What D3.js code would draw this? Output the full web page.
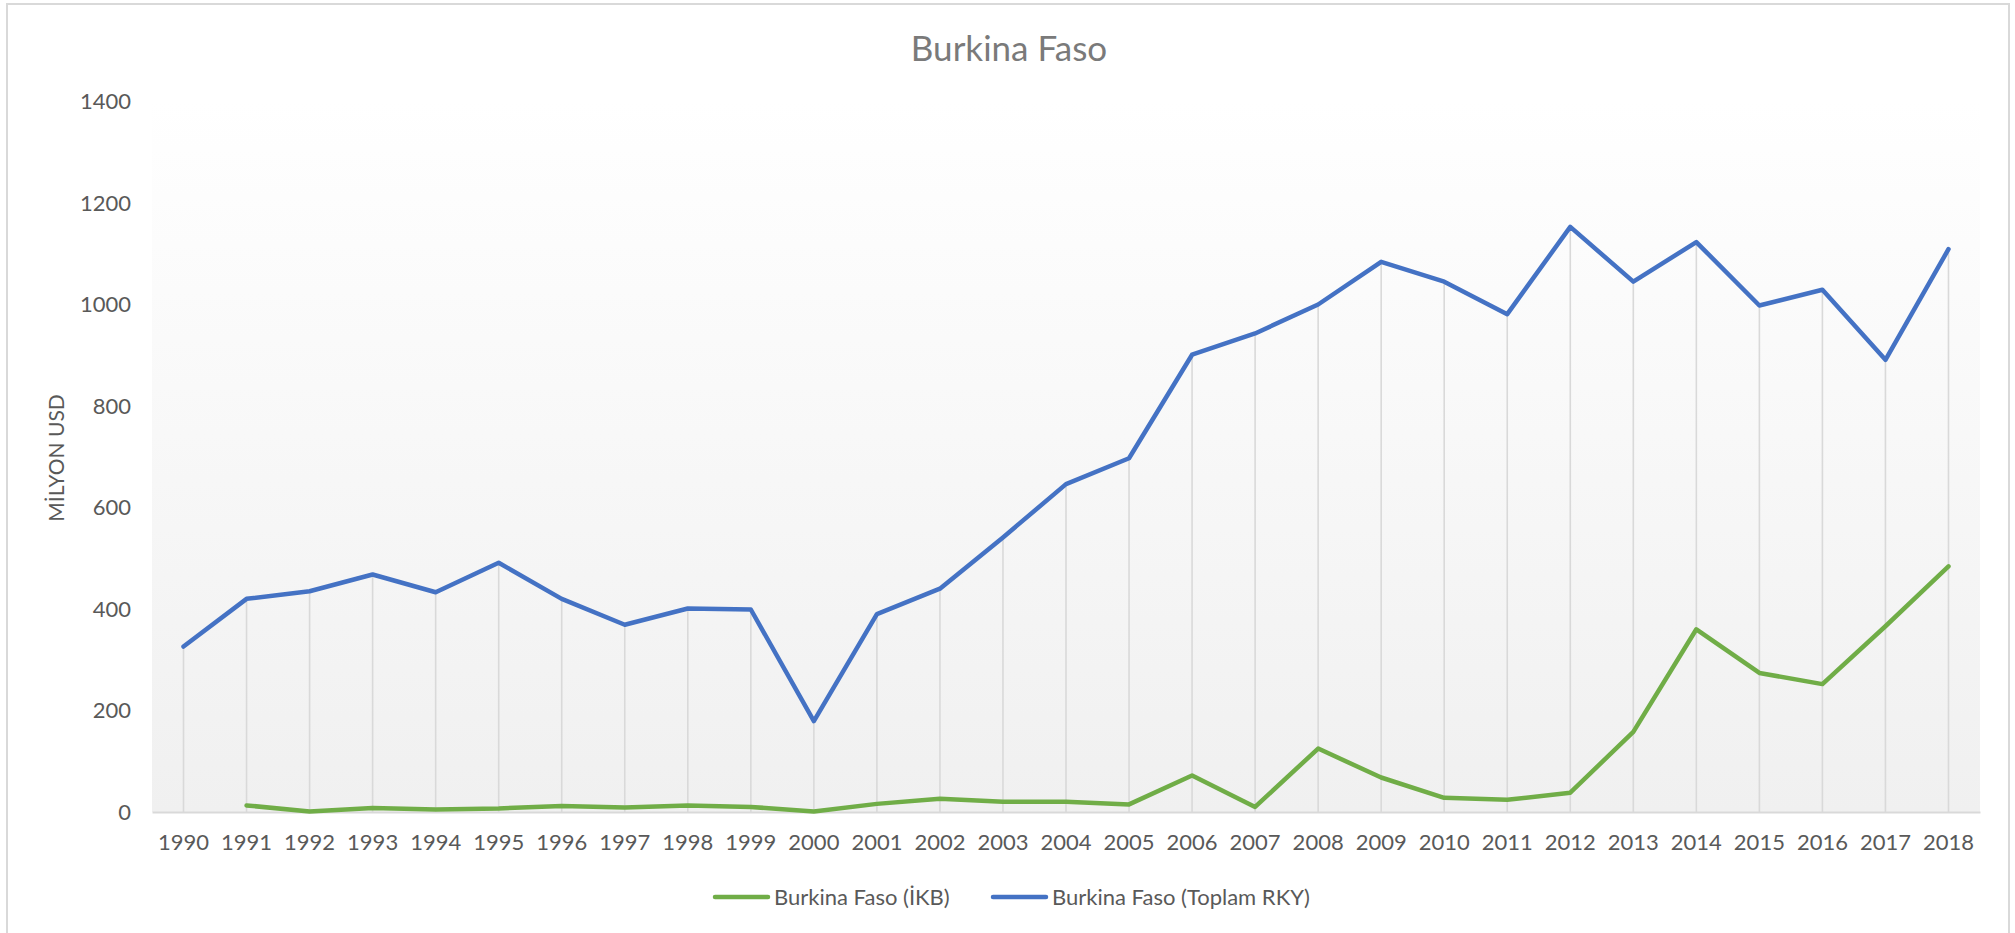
<!DOCTYPE html>
<html>
<head>
<meta charset="utf-8">
<script src="https://cdn.jsdelivr.net/npm/d3@7"></script>
<style>
  body { margin: 0; background: #ffffff; }
  text { font-family: Lato, "Open Sans", sans-serif; }
</style>
</head>
<body>
<script>

// years on the category axis
var years = [1990, 1991, 1992, 1993, 1994, 1995, 1996, 1997, 1998, 1999,
             2000, 2001, 2002, 2003, 2004, 2005, 2006, 2007, 2008, 2009,
             2010, 2011, 2012, 2013, 2014, 2015, 2016, 2017, 2018];

// Burkina Faso (İKB), no value for 1990
var ikb = [null, 13, 1, 8, 5, 7, 12, 9, 13, 10,
           1, 16, 26, 20, 20, 15, 72, 10, 125, 68,
           28, 24, 38, 158, 360, 274, 252, 366, 484];

// Burkina Faso (Toplam RKY)
var toplam = [326, 420, 435, 468, 433, 491, 420, 369, 401, 399,
              179, 390, 440, 541, 646, 697, 901, 943, 1000, 1084,
              1045, 981, 1153, 1045, 1123, 998, 1029, 891, 1109];

var y_ticks = [0, 200, 400, 600, 800, 1000, 1200, 1400];

var series_names = ["Burkina Faso (İKB)", "Burkina Faso (Toplam RKY)"];
var series_colors = ["#70ad47", "#4472c4"];

function draw() {

    var width = 2015, height = 933;
    var margin = {top: 101.5, right: 35, bottom: 121, left: 152};

    var svg = d3.select("body")
                .append("svg")
                .attr("width", width)
                .attr("height", height);

    // chart border
    svg.append("rect")
       .attr("x", 7)
       .attr("y", 4)
       .attr("width", 2002)
       .attr("height", 940)
       .attr("fill", "#ffffff")
       .attr("stroke", "#d9d9d9")
       .attr("stroke-width", 2);

    // scales
    var x_scale = d3.scaleBand()
        .domain(years)
        .range([margin.left, width - margin.right])
        .padding(0);

    var y_scale = d3.scaleLinear()
        .domain([0, 1400])
        .range([height - margin.bottom, margin.top]);

    function cx(i) {
        return x_scale(years[i]) + x_scale.bandwidth() / 2;
    }

    // plot area background gradient
    var grad = svg.append("defs")
        .append("linearGradient")
        .attr("id", "plotbg")
        .attr("x1", 0).attr("y1", 0)
        .attr("x2", 0).attr("y2", 1);
    grad.append("stop").attr("offset", "0%").attr("stop-color", "#ffffff");
    grad.append("stop").attr("offset", "100%").attr("stop-color", "#f0f0f0");

    svg.append("rect")
       .attr("x", margin.left)
       .attr("y", y_scale(1400))
       .attr("width", x_scale.range()[1] - margin.left)
       .attr("height", y_scale(0) - y_scale(1400))
       .attr("fill", "url(#plotbg)");

    // title
    svg.append("text")
       .attr("x", 1009)
       .attr("y", 61)
       .attr("text-anchor", "middle")
       .attr("font-size", "35px")
       .attr("fill", "#7a7a7a")
       .text("Burkina Faso");

    // drop lines from the highest point down to the axis
    svg.append("g")
       .selectAll("line")
       .data(years)
       .enter()
       .append("line")
       .attr("x1", function(d, i) { return cx(i); })
       .attr("x2", function(d, i) { return cx(i); })
       .attr("y1", function(d, i) {
           return y_scale(Math.max(toplam[i], ikb[i] == null ? 0 : ikb[i]));
       })
       .attr("y2", y_scale(0))
       .attr("stroke", "#d9d9d9")
       .attr("stroke-width", 1.6);

    // y axis
    var y_axis = d3.axisLeft(y_scale)
        .tickValues(y_ticks)
        .tickSize(0)
        .tickPadding(0)
        .tickFormat(d3.format("d"));

    var gy = svg.append("g")
        .attr("transform", "translate(131,0)")
        .call(y_axis);
    gy.select(".domain").remove();
    gy.selectAll("text")
      .attr("font-size", "22px")
      .attr("fill", "#595959")
      .style("font-family", "Lato, sans-serif");

    // x axis
    var x_axis = d3.axisBottom(x_scale).tickSize(0).tickPadding(22);
    var gx = svg.append("g")
        .attr("transform", "translate(0," + y_scale(0) + ")")
        .call(x_axis);
    gx.select(".domain")
      .attr("stroke", "#d9d9d9")
      .attr("stroke-width", 2);
    gx.selectAll("text")
      .attr("font-size", "22px")
      .attr("fill", "#595959")
      .style("font-family", "Lato, sans-serif");

    // y axis title
    svg.append("text")
       .attr("transform", "translate(64,458) rotate(-90)")
       .attr("text-anchor", "middle")
       .attr("font-size", "21px")
       .attr("fill", "#595959")
       .text("MİLYON USD");

    // lines
    var line = d3.line()
        .defined(function(d) { return d != null; })
        .x(function(d, i) { return cx(i); })
        .y(function(d) { return y_scale(d); });

    [ikb, toplam].forEach(function(s, k) {
        svg.append("path")
           .datum(s)
           .attr("d", line)
           .attr("fill", "none")
           .attr("stroke", series_colors[k])
           .attr("stroke-width", 4.5)
           .attr("stroke-linejoin", "round")
           .attr("stroke-linecap", "round");
    });

    // legend
    var legend_x = [715, 993];
    series_names.forEach(function(name, k) {
        var g = svg.append("g")
            .attr("transform", "translate(" + legend_x[k] + ",897)");
        g.append("line")
         .attr("x1", 0).attr("x2", 53)
         .attr("y1", 0).attr("y2", 0)
         .attr("stroke", series_colors[k])
         .attr("stroke-width", 4.5)
         .attr("stroke-linecap", "round");
        g.append("text")
         .attr("x", 59)
         .attr("y", 0)
         .attr("dy", "0.35em")
         .attr("font-size", "22px")
         .attr("fill", "#595959")
         .text(name);
    });
}

draw();

</script>
</body>
</html>
